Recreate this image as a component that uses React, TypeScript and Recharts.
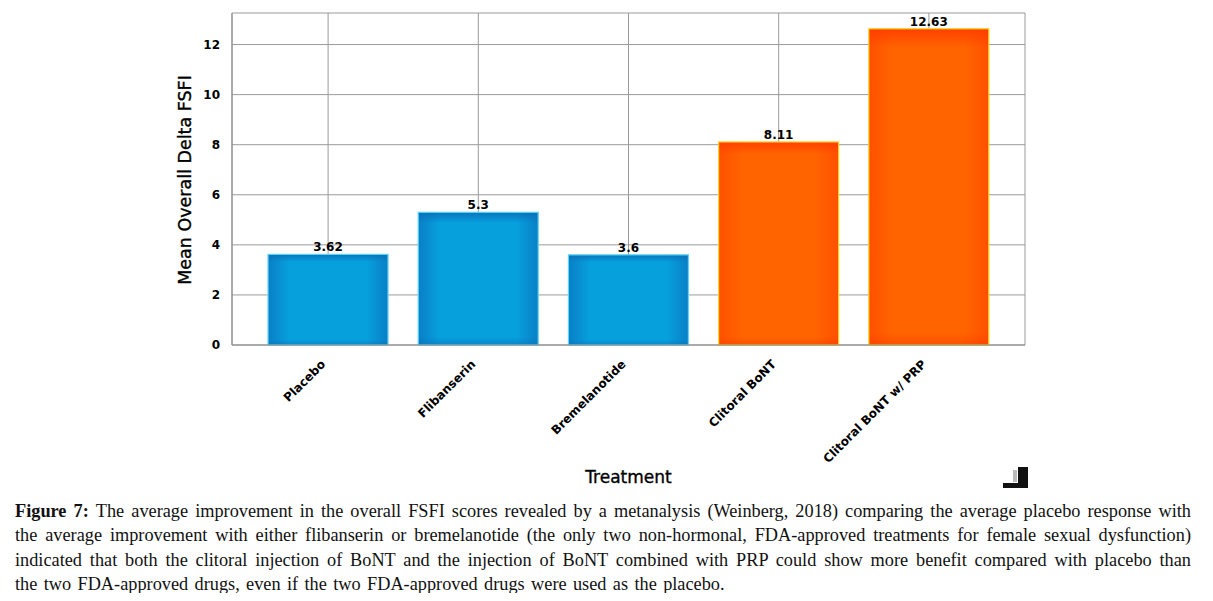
import React from 'react';
import { BarChart, Bar, XAxis, YAxis, CartesianGrid, LabelList, Label } from 'recharts';

const categories = ['Placebo', 'Flibanserin', 'Bremelanotide', 'Clitoral BoNT', 'Clitoral BoNT w/ PRP'];
const meanDelta = [3.62, 5.3, 3.6, 8.11, 12.63];
const valueLabels = ['3.62', '5.3', '3.6', '8.11', '12.63'];
const treatmentKind = ['comparator', 'comparator', 'comparator', 'BoNT', 'BoNT'];
const yTicks = [0, 2, 4, 6, 8, 10, 12];

const captionLines = [
  'The average improvement in the overall FSFI scores revealed by a metanalysis (Weinberg, 2018) comparing the average placebo response with',
  'the average improvement with either flibanserin or bremelanotide (the only two non-hormonal, FDA-approved treatments for female sexual dysfunction)',
  'indicated that both the clitoral injection of BoNT and the injection of BoNT combined with PRP could show more benefit compared with placebo than',
  'the two FDA-approved drugs, even if the two FDA-approved drugs were used as the placebo.',
];

const data = categories.map((name, i) => ({
  name,
  value: meanDelta[i],
  label: valueLabels[i],
  kind: treatmentKind[i],
}));

const GradientBar = (props: any) => {
  const { x, y, width, height, payload } = props;
  if (!height || height <= 0) return null;
  const bont = payload.kind === 'BoNT';
  return (
    <g>
      <rect x={x} y={y} width={width} height={height} fill={bont ? 'url(#orangeFill)' : 'url(#blueFill)'} />
      <rect x={x} y={y} width={width} height={height} fill={bont ? 'url(#orangeTop)' : 'url(#blueTop)'} />
      <rect
        x={x}
        y={y}
        width={width}
        height={height}
        fill="none"
        stroke={bont ? '#ffd51c' : '#5fd6f7'}
        strokeWidth={1.2}
      />
    </g>
  );
};

const XTick = (props: any) => {
  const { x, y, payload } = props;
  return (
    <g transform={`translate(${x - 2},${y + 12}) rotate(-45)`}>
      <text x={0} y={0} textAnchor="end" fontSize={12} fontWeight="bold" fill="#000">
        {payload.value}
      </text>
    </g>
  );
};

const Caption = () => (
  <div
    style={{
      position: 'absolute',
      left: 15,
      top: 499,
      width: 1176,
      fontFamily: '"Liberation Serif", "DejaVu Serif", serif',
      fontSize: 18.3,
      lineHeight: '24.3px',
      color: '#111',
    }}
  >
    {captionLines.map((line, i) => {
      const last = i === captionLines.length - 1;
      return (
        <div
          key={i}
          style={{
            textAlign: 'justify',
            textAlignLast: last ? 'left' : 'justify',
            whiteSpace: 'nowrap',
            wordSpacing: last ? 1.8 : 0,
          }}
        >
          {i === 0 && <b>Figure 7: </b>}
          {line}
        </div>
      );
    })}
  </div>
);

export default function App() {
  return (
    <div
      style={{
        position: 'relative',
        margin: -8,
        width: 1213,
        height: 601,
        background: '#fff',
        overflow: 'hidden',
        fontFamily: '"DejaVu Sans", sans-serif',
      }}
    >
      <BarChart
        width={1213}
        height={490}
        data={data}
        margin={{ top: 13, right: 188, left: 172, bottom: 0 }}
        barCategoryGap="10%"
      >
        <defs>
          <linearGradient id="blueFill" x1="0" y1="0" x2="1" y2="0">
            <stop offset="0%" stopColor="#0a7fc6" />
            <stop offset="18%" stopColor="#06a0dd" />
            <stop offset="82%" stopColor="#06a0dd" />
            <stop offset="100%" stopColor="#0a7fc6" />
          </linearGradient>
          <linearGradient id="blueTop" x1="0" y1="0" x2="0" y2="1">
            <stop offset="0%" stopColor="#0a6fb8" stopOpacity={0.9} />
            <stop offset="8%" stopColor="#0a6fb8" stopOpacity={0} />
            <stop offset="94%" stopColor="#0a6fb8" stopOpacity={0} />
            <stop offset="100%" stopColor="#0a6fb8" stopOpacity={0.5} />
          </linearGradient>
          <linearGradient id="orangeFill" x1="0" y1="0" x2="1" y2="0">
            <stop offset="0%" stopColor="#ff5000" />
            <stop offset="20%" stopColor="#ff6400" />
            <stop offset="80%" stopColor="#ff6400" />
            <stop offset="100%" stopColor="#ff5000" />
          </linearGradient>
          <linearGradient id="orangeTop" x1="0" y1="0" x2="0" y2="1">
            <stop offset="0%" stopColor="#ff3c00" stopOpacity={0.9} />
            <stop offset="6%" stopColor="#ff3c00" stopOpacity={0} />
            <stop offset="96%" stopColor="#ff3c00" stopOpacity={0} />
            <stop offset="100%" stopColor="#ff3c00" stopOpacity={0.5} />
          </linearGradient>
        </defs>
        <CartesianGrid stroke="#9a9a9a" strokeWidth={1} />
        <XAxis
          dataKey="name"
          interval={0}
          padding={{ left: 21, right: 21 }}
          height={145}
          tickLine={false}
          axisLine={{ stroke: '#888' }}
          tick={<XTick />}
        >
          <Label
            content={(p: any) => {
              const vb = p.viewBox || { x: 232, y: 345, width: 793 };
              return (
                <text
                  x={vb.x + vb.width / 2}
                  y={vb.y + 138}
                  textAnchor="middle"
                  fontSize={17}
                  fill="#000"
                  stroke="#000"
                  strokeWidth={0.35}
                >
                  Treatment
                </text>
              );
            }}
          />
        </XAxis>
        <XAxis
          xAxisId="top"
          orientation="top"
          dataKey="name"
          height={0}
          padding={{ left: 21, right: 21 }}
          tick={false}
          tickLine={false}
          axisLine={{ stroke: '#888' }}
        />
        <YAxis
          domain={[0, 13.26]}
          ticks={yTicks}
          width={60}
          tickLine={false}
          tickSize={0}
          tickMargin={12}
          axisLine={{ stroke: '#888' }}
          tick={{ fontSize: 12, fontWeight: 'bold', fill: '#000' }}
        >
          <Label
            content={(p: any) => {
              const vb = p.viewBox || { x: 172, y: 13, height: 332 };
              const cx = vb.x + 19;
              const cy = vb.y + vb.height / 2 + 1;
              return (
                <text
                  x={cx}
                  y={cy}
                  transform={`rotate(-90, ${cx}, ${cy})`}
                  textAnchor="middle"
                  fontSize={17.5}
                  fill="#000"
                  stroke="#000"
                  strokeWidth={0.35}
                >
                  Mean Overall Delta FSFI
                </text>
              );
            }}
          />
        </YAxis>
        <YAxis
          yAxisId="right"
          orientation="right"
          domain={[0, 13.26]}
          width={0}
          tick={false}
          tickLine={false}
          axisLine={{ stroke: '#888' }}
        />
        <Bar dataKey="value" shape={<GradientBar />} isAnimationActive={false}>
          <LabelList
            dataKey="label"
            position="top"
            offset={3}
            style={{ fontSize: 12, fontWeight: 'bold', fill: '#000' }}
          />
        </Bar>
      </BarChart>
      <div style={{ position: 'absolute', left: 1018, top: 467, width: 10, height: 21, background: '#111' }} />
      <div style={{ position: 'absolute', left: 1003, top: 483, width: 25, height: 5, background: '#111' }} />
      <div style={{ position: 'absolute', left: 1013, top: 470, width: 4, height: 12, background: '#bbb' }} />
      <Caption />
    </div>
  );
}
